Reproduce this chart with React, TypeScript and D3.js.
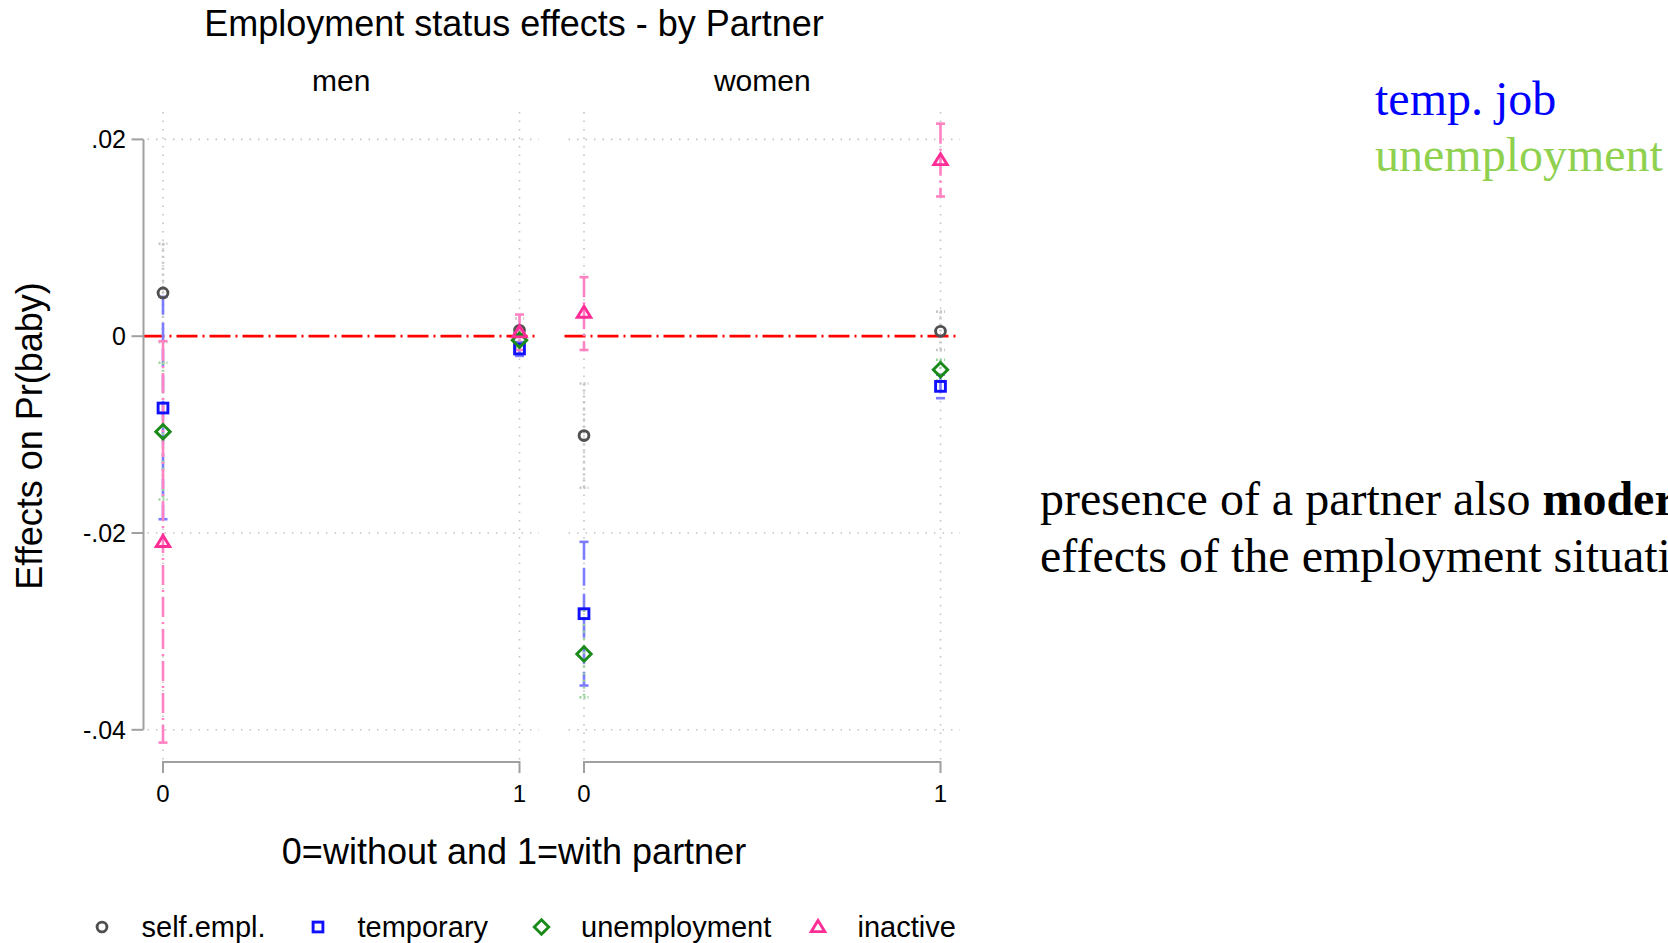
import React from "react";
import * as d3 from "d3";

// ---------- data ----------
const panels = ["men", "women"];
const partnerTicks = [0, 1];
const yTicks = [0.02, 0, -0.02, -0.04];
const yTickLabels = [".02", "0", "-.02", "-.04"];
const categories = ["self.empl.", "temporary", "unemployment", "inactive"];

// order: men@0, men@1, women@0, women@1
const selfEmplEst = [0.0044, 0.0006, -0.0101, 0.0005];
const selfEmplLo = [-0.0006, -0.0006, -0.0154, -0.0014];
const selfEmplHi = [0.0094, 0.0018, -0.0048, 0.0025];

const temporaryEst = [-0.0073, -0.0013, -0.0282, -0.0051];
const temporaryLo = [-0.0186, -0.002, -0.0355, -0.0063];
const temporaryHi = [0.004, -0.0006, -0.0209, -0.0039];

const unemploymentEst = [-0.0097, -0.0004, -0.0323, -0.0034];
const unemploymentLo = [-0.0166, -0.0012, -0.0367, -0.0045];
const unemploymentHi = [-0.0027, 0.0004, -0.0278, -0.0024];

const inactiveEst = [-0.0209, 0.0004, 0.0024, 0.0179];
const inactiveLo = [-0.0413, -0.0014, -0.0014, 0.0142];
const inactiveHi = [-0.0005, 0.0022, 0.006, 0.0216];

const seriesEst = [selfEmplEst, temporaryEst, unemploymentEst, inactiveEst];
const seriesLo = [selfEmplLo, temporaryLo, unemploymentLo, inactiveLo];
const seriesHi = [selfEmplHi, temporaryHi, unemploymentHi, inactiveHi];

// ---------- styles ----------
const markerColors = ["#505050", "#1010ff", "#1a8a1a", "#ff2e96"];
const ciColors = ["#c6c6c6", "#7c7cff", "#9ad49a", "#ff82c2"];
const ciDash = ["2 4", "18 8", "2 5", "20 5 2 5"];
const sans = "'Liberation Sans', Arial, Helvetica, sans-serif";
const serif = "'Liberation Serif', 'Times New Roman', serif";

const W = 1668;
const H = 943;
const panelLeft = [143.5, 564.5];
const panelWidth = 395.5;
const panelPad = 19.5;
const plotTop = 112;
const plotBottom = 762;

function Marker({ kind, x, y, color, s = 1 }) {
  const sw = 2.9;
  if (kind === 0) return <circle cx={x} cy={y} r={4.9 * s} fill="none" stroke={color} strokeWidth={sw} />;
  if (kind === 1) {
    const h = 4.9 * s;
    return <rect x={x - h} y={y - h} width={2 * h} height={2 * h} fill="none" stroke={color} strokeWidth={sw} />;
  }
  if (kind === 2) {
    const h = 7.2 * s;
    return (
      <path d={`M${x},${y - h}L${x + h},${y}L${x},${y + h}L${x - h},${y}Z`} fill="none" stroke={color} strokeWidth={sw} />
    );
  }
  const h = 6.4 * s;
  return (
    <path
      d={`M${x},${y - h}L${x + h * 1.05},${y + h * 0.72}L${x - h * 1.05},${y + h * 0.72}Z`}
      fill="none"
      stroke={color}
      strokeWidth={sw}
    />
  );
}

export default function App() {
  const y = d3.scaleLinear().domain([-0.04, 0.02]).range([729.8, 139.4]);
  const xScales = panels.map((_, p) =>
    d3
      .scaleLinear()
      .domain([0, 1])
      .range([panelLeft[p] + panelPad, panelLeft[p] + panelWidth - panelPad])
  );
  const gridColor = "#c4c4c4";
  const axisColor = "#a0a0a0";
  const capW = 4.5;

  return (
    <svg
      width={W}
      height={H}
      style={{ position: "absolute", left: 0, top: 0, background: "#fff" }}
      fontFamily={sans}
    >
      <rect x={0} y={0} width={W} height={H} fill="#fff" />
      {/* title */}
      <text x={514} y={36} textAnchor="middle" fontSize={36} fill="#000">
        Employment status effects - by Partner
      </text>

      {panels.map((name, p) => {
        const x = xScales[p];
        const left = panelLeft[p];
        const right = left + panelWidth;
        return (
          <g key={name}>
            <text x={(left + right) / 2} y={91} textAnchor="middle" fontSize={30} fill="#000">
              {name}
            </text>
            {/* horizontal grid */}
            {yTicks
              .filter((t) => t !== 0)
              .map((t) => (
                <line
                  key={t}
                  x1={left + 4}
                  x2={right}
                  y1={y(t)}
                  y2={y(t)}
                  stroke={gridColor}
                  strokeWidth={1.6}
                  strokeDasharray="1.5 7"
                />
              ))}
            {/* vertical grid */}
            {partnerTicks.map((t) => (
              <line
                key={t}
                x1={x(t)}
                x2={x(t)}
                y1={plotTop}
                y2={plotBottom}
                stroke={gridColor}
                strokeWidth={1.6}
                strokeDasharray="1.5 7"
              />
            ))}
            {/* zero reference line */}
            <line
              x1={left}
              x2={right}
              y1={y(0)}
              y2={y(0)}
              stroke="#ff0000"
              strokeWidth={2.7}
              strokeDasharray="21 5 2 5"
            />
            {/* x axis */}
            <path
              d={`M${x(0)},${plotBottom + 11}V${plotBottom}H${x(1)}V${plotBottom + 11}`}
              fill="none"
              stroke={axisColor}
              strokeWidth={2}
            />
            {partnerTicks.map((t) => (
              <text key={t} x={x(t)} y={802} textAnchor="middle" fontSize={24} fill="#000">
                {t}
              </text>
            ))}
            {/* CIs */}
            {categories.map((c, k) =>
              partnerTicks.map((t) => {
                const i = p * 2 + t;
                const xx = x(t);
                const lo = y(seriesLo[k][i]);
                const hi = y(seriesHi[k][i]);
                return (
                  <g key={c + t} stroke={ciColors[k]} strokeWidth={2.6} fill="none">
                    <line x1={xx} x2={xx} y1={hi} y2={lo} strokeDasharray={ciDash[k]} />
                    <line x1={xx - capW} x2={xx + capW} y1={hi} y2={hi} strokeDasharray={k === 0 || k === 2 ? "2 2" : undefined} />
                    <line x1={xx - capW} x2={xx + capW} y1={lo} y2={lo} strokeDasharray={k === 0 || k === 2 ? "2 2" : undefined} />
                  </g>
                );
              })
            )}
            {/* markers */}
            {categories.map((c, k) =>
              partnerTicks.map((t) => {
                const i = p * 2 + t;
                return <Marker key={c + t} kind={k} x={x(t)} y={y(seriesEst[k][i])} color={markerColors[k]} />;
              })
            )}
          </g>
        );
      })}

      {/* y axis */}
      <line x1={panelLeft[0]} x2={panelLeft[0]} y1={y(0.02)} y2={y(-0.04)} stroke={axisColor} strokeWidth={2} />
      {yTicks.map((t, i) => (
        <g key={t}>
          <line x1={panelLeft[0] - 12} x2={panelLeft[0]} y1={y(t)} y2={y(t)} stroke={axisColor} strokeWidth={2} />
          <text x={126} y={y(t)} dy="0.35em" textAnchor="end" fontSize={25} fill="#000">
            {yTickLabels[i]}
          </text>
        </g>
      ))}

      {/* axis titles */}
      <text x={514} y={864} textAnchor="middle" fontSize={36} fill="#000">
        0=without and 1=with partner
      </text>
      <text transform="translate(42,436) rotate(-90)" textAnchor="middle" fontSize={36} fill="#000">
        Effects on Pr(baby)
      </text>

      {/* legend */}
      {categories.map((c, k) => {
        const mx = [102, 318, 541.5, 818][k];
        return (
          <g key={c}>
            <Marker kind={k} x={mx} y={927} color={markerColors[k]} s={1} />
            <text x={mx + 39.5} y={937} fontSize={29} fill="#000">
              {c}
            </text>
          </g>
        );
      })}

      {/* side annotation */}
      <text x={1375} y={115} fontFamily={serif} fontSize={48} fill="#0000ff">
        temp. job
      </text>
      <text x={1375} y={171} fontFamily={serif} fontSize={48} fill="#8fd14f">
        unemployment
      </text>
      <text x={1040} y={515} fontFamily={serif} fontSize={48} fill="#000">
        presence of a partner also <tspan fontWeight="bold">moderates</tspan> the
      </text>
      <text x={1040} y={572} fontFamily={serif} fontSize={48} fill="#000">
        effects of the employment situation
      </text>
    </svg>
  );
}
